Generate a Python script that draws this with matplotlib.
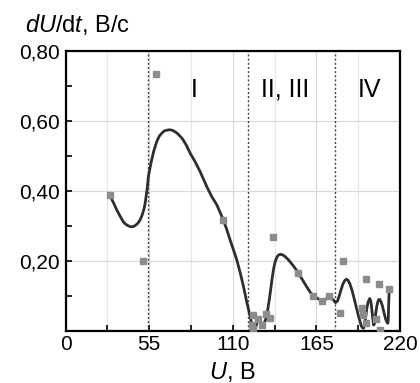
import matplotlib
matplotlib.use("Agg")
import matplotlib.pyplot as plt
from matplotlib.ticker import MultipleLocator, FixedLocator

plt.rcParams['font.family'] = ['Liberation Sans', 'DejaVu Sans']
plt.rcParams['mathtext.fontset'] = 'custom'
plt.rcParams['mathtext.rm'] = 'Liberation Sans'
plt.rcParams['mathtext.it'] = 'Liberation Sans:italic'

# measured points
pts_u = [29.2, 50.7, 59.3, 103.4, 122.3, 123.0, 123.0, 126.7, 129.4, 131.8, 134.4,
         136.3, 153.2, 162.7, 168.6, 173.5, 180.3, 182.8, 195.3, 195.8, 197.6,
         197.8, 204.2, 206.0, 207.0, 212.5]
pts_v = [0.389, 0.200, 0.734, 0.317, 0.017, 0.046, 0.005, 0.033, 0.017, 0.050, 0.036,
         0.268, 0.167, 0.100, 0.085, 0.100, 0.052, 0.200, 0.065, 0.046, 0.022,
         0.150, 0.034, 0.134, 0.003, 0.119]

# fitted curve (traced)
curve_u = [29.2, 31.5, 33.6, 35.8, 37.9, 39.5, 41.0, 42.6, 44.1, 45.3, 46.5, 47.7,
           48.9, 50.3, 51.6, 52.3, 52.9, 53.7, 54.4, 55.5, 56.6, 58.0, 59.9, 61.5,
           63.2, 65.0, 66.9, 68.5, 70.5, 73.1, 75.0, 77.0, 79.5, 81.9, 85.0, 88.5,
           92.9, 96.0, 99.5, 103.8, 106.0, 108.2, 110.4, 112.6, 114.8, 117.0, 119.2,
           120.4, 121.4, 122.3, 123.0, 123.8, 124.5, 125.3, 126.0, 126.8, 127.5,
           128.5, 129.5, 130.5, 131.5, 132.3, 133.0, 134.0, 135.0, 136.0, 137.0,
           138.0, 139.0, 140.0, 141.2, 142.5, 144.0, 146.0, 148.0, 150.0, 152.2,
           154.0, 156.0, 158.5, 161.0, 164.0, 167.6, 171.0, 174.2, 176.0, 177.5,
           178.8, 180.0, 181.2, 182.5, 183.6, 184.7, 185.8, 187.0, 188.5, 190.0,
           191.4, 192.8, 193.7, 194.5, 195.3, 196.1, 197.0, 198.0, 199.0, 200.1,
           200.8, 201.5, 202.1, 202.7, 203.3, 204.0, 204.8, 205.5, 206.1, 206.7,
           207.6, 208.5, 209.5, 210.5, 211.3, 212.0, 212.3, 212.5, 212.7, 212.9]
curve_v = [0.386, 0.366, 0.346, 0.328, 0.312, 0.305, 0.301, 0.298, 0.298, 0.300,
           0.304, 0.309, 0.317, 0.331, 0.350, 0.366, 0.384, 0.410, 0.441, 0.467,
           0.489, 0.515, 0.541, 0.556, 0.565, 0.572, 0.574, 0.575, 0.573, 0.566,
           0.558, 0.548, 0.530, 0.508, 0.485, 0.455, 0.412, 0.385, 0.360, 0.317,
           0.290, 0.260, 0.232, 0.203, 0.167, 0.127, 0.082, 0.060, 0.041, 0.022,
           0.011, 0.006, 0.006, 0.014, 0.026, 0.034, 0.035, 0.026, 0.017, 0.020,
           0.032, 0.045, 0.062, 0.090, 0.122, 0.155, 0.182, 0.200, 0.211, 0.217,
           0.219, 0.218, 0.214, 0.206, 0.196, 0.185, 0.172, 0.159, 0.145, 0.127,
           0.110, 0.097, 0.089, 0.091, 0.094, 0.090, 0.081, 0.085, 0.100, 0.118,
           0.135, 0.144, 0.148, 0.145, 0.135, 0.115, 0.090, 0.065, 0.041, 0.027,
           0.015, 0.009, 0.008, 0.025, 0.060, 0.083, 0.093, 0.085, 0.060, 0.035,
           0.017, 0.022, 0.050, 0.072, 0.085, 0.090, 0.090, 0.083, 0.070, 0.052,
           0.035, 0.026, 0.022, 0.035, 0.070, 0.095, 0.117]

region_bounds = [54, 120, 177]
region_labels = ["I", "II, III", "IV"]
region_label_u = [84.6, 144.5, 199.8]
region_label_v = 0.689

xticks = [0, 55, 110, 165, 220]
yticks = [0.2, 0.4, 0.6, 0.8]
ytick_labels = ["0,20", "0,40", "0,60", "0,80"]

fig = plt.figure(figsize=(4.2, 3.83), dpi=100)
ax = fig.add_axes([65.7/420, 1-331/383, (400-65.7)/420, (331-51)/383])

ax.set_xlim(0, 220)
ax.set_ylim(0, 0.8)
ax.xaxis.set_major_locator(FixedLocator(xticks))
ax.xaxis.set_minor_locator(MultipleLocator(27.5))
ax.yaxis.set_major_locator(FixedLocator(yticks))
ax.yaxis.set_minor_locator(MultipleLocator(0.1))
ax.set_xticklabels([str(t) for t in xticks])
ax.set_yticklabels(ytick_labels)

ax.grid(True, which='major', color='#d9d9d9', lw=0.9)
ax.grid(True, which='minor', axis='x', color='#e6e6e6', lw=0.8)
ax.set_axisbelow(True)

ax.tick_params(which='both', direction='in', length=4, width=1.2, colors='black',
               labelsize=15)
ax.tick_params(axis='x', pad=3)
ax.tick_params(axis='y', pad=4)
for s in ax.spines.values():
    s.set_linewidth(1.6)

for b in region_bounds:
    ax.axvline(b, color='#444444', lw=1.0, ls=(0, (1.5, 1.5)), zorder=2)

ax.plot(curve_u, curve_v, color='#2e2e2e', lw=2.0, solid_joinstyle='round',
        solid_capstyle='round', zorder=3)
ax.plot(pts_u, pts_v, ls='none', marker='s', ms=4.5, color='#8c8c8c', mec='#8c8c8c', zorder=4)

for lab, u in zip(region_labels, region_label_u):
    ax.text(u, region_label_v, lab, ha='center', va='center', fontsize=18)

fig.text(25/420, 1-32/383, r"$dU$/d$t$, В/с", fontsize=17, ha='left', va='baseline')
fig.text(232/420, 1-379/383, r"$U$, В", fontsize=17, ha='center', va='baseline')

fig.savefig("out.png", dpi=100)
